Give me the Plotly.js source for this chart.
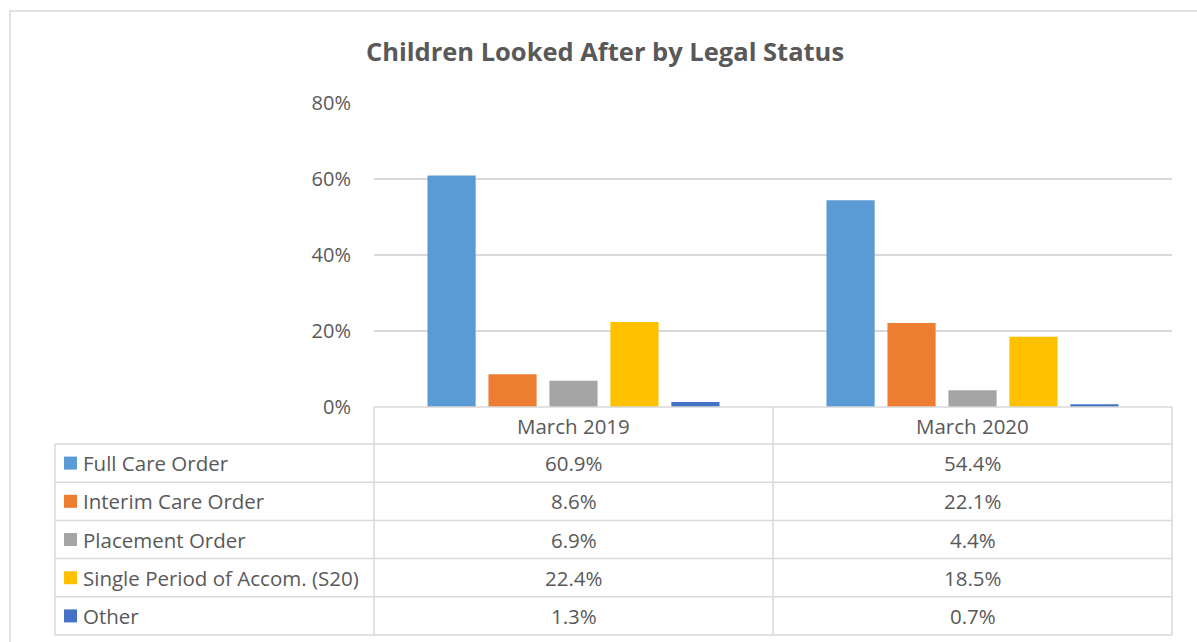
<!DOCTYPE html>
<html><head><meta charset="utf-8">
<script src="https://cdn.plot.ly/plotly-3.0.1.min.js"></script>
<style>html,body{margin:0;padding:0;background:#fff;}#chart{width:1197px;height:642px;}</style>
</head><body><div id="chart"></div>
<script>
const categories = ['March 2019', 'March 2020'];
const seriesNames = ['Full Care Order', 'Interim Care Order', 'Placement Order', 'Single Period of Accom. (S20)', 'Other'];
const fullCareOrder = [0.609, 0.544];
const interimCareOrder = [0.086, 0.221];
const placementOrder = [0.069, 0.044];
const singlePeriodS20 = [0.224, 0.185];
const otherStatus = [0.013, 0.007];
const yTickVals = [0, 0.2, 0.4, 0.6, 0.8];
const yTickText = ['0%', '20%', '40%', '60%', '80%'];

const seriesValues = [fullCareOrder, interimCareOrder, placementOrder, singlePeriodS20, otherStatus];
const colors = ['#5B9BD5', '#ED7D31', '#A5A5A5', '#FFC000', '#4472C4'];

const FONT = '"Open Sans", sans-serif';
const TXT = '#595959';
const LINE = '#D9D9D9';
const FS = 20.5;
const W = 1197, H = 642, L = 374, R = 1172, T = 103, B = 407;
const px = x => (x - L) / (R - L);
const py = y => (B - y) / (B - T);

const traces = seriesNames.map((n, i) => ({
  type: 'bar', name: n, x: categories, y: seriesValues[i],
  marker: {color: colors[i]}, hoverinfo: 'skip'
}));

const rowEdges = [444, 482.2, 520.4, 558.6, 596.8, 635];
const shapes = [];
const annotations = [];
const ln = (xref, x0, x1, y0, y1) => shapes.push({type: 'line', xref: xref, yref: 'paper', x0: x0, x1: x1, y0: py(y0), y1: py(y1), line: {color: LINE, width: 1.5}});
// outer chart border
shapes.push({type: 'rect', xref: 'paper', yref: 'paper', x0: px(10), x1: px(1205), y0: py(11), y1: py(650), line: {color: LINE, width: 1.5}, fillcolor: 'rgba(0,0,0,0)'});
// table
ln('paper', 0, 1, 407, 407);
rowEdges.forEach(y => ln('paper', px(55), 1, y, y));
ln('paper', px(55), px(55), 444, 635);
ln('paper', 0, 0, 407, 635);
ln('paper', 1, 1, 407, 635);
ln('x', 0.5, 0.5, 407, 635);

const fmt = v => (v * 100).toFixed(1) + '%';
categories.forEach((c, ci) => {
  annotations.push({xref: 'x', yref: 'paper', x: ci, y: py((407 + 444) / 2), text: c, showarrow: false, xanchor: 'center', yanchor: 'middle', font: {family: FONT, size: FS, color: TXT}});
  seriesValues.forEach((vals, si) => {
    const yc = (rowEdges[si] + rowEdges[si + 1]) / 2;
    annotations.push({xref: 'x', yref: 'paper', x: ci, y: py(yc), text: fmt(vals[ci]), showarrow: false, xanchor: 'center', yanchor: 'middle', font: {family: FONT, size: FS, color: TXT}});
  });
});
seriesNames.forEach((n, si) => {
  const yc = (rowEdges[si] + rowEdges[si + 1]) / 2;
  annotations.push({xref: 'paper', yref: 'paper', x: px(81), y: py(yc), text: n, showarrow: false, xanchor: 'left', yanchor: 'middle', font: {family: FONT, size: FS, color: TXT}});
  shapes.push({type: 'rect', xref: 'paper', yref: 'paper', x0: px(64), x1: px(77), y0: py(yc - 6.5), y1: py(yc + 6.5), line: {width: 0}, fillcolor: colors[si]});
});

const layout = {
  width: W, height: H,
  margin: {l: L, r: W - R, t: T, b: H - B, pad: 0},
  paper_bgcolor: '#fff', plot_bgcolor: '#fff',
  title: {text: 'Children Looked After by Legal Status', x: 605 / W, xanchor: 'center', y: 1 - 52 / H, yanchor: 'middle', xref: 'container', yref: 'container', font: {family: FONT, size: 25.5, color: TXT, weight: 'bold'}},
  showlegend: false,
  barmode: 'group', bargap: 0.236, bargroupgap: 0.21,
  xaxis: {type: 'category', range: [-0.5, 1.5], showticklabels: false, showgrid: false, zeroline: false, showline: false, ticks: '', fixedrange: true},
  yaxis: {range: [0, 0.8], tickvals: yTickVals, ticktext: yTickText, showgrid: true, gridcolor: LINE, gridwidth: 1.5, zeroline: false, showline: false, ticks: '', ticklabelstandoff: 22, tickfont: {family: FONT, size: 20, color: TXT}, fixedrange: true},
  shapes: shapes, annotations: annotations
};
Plotly.newPlot('chart', traces, layout, {displayModeBar: false, staticPlot: true});
</script></body></html>
